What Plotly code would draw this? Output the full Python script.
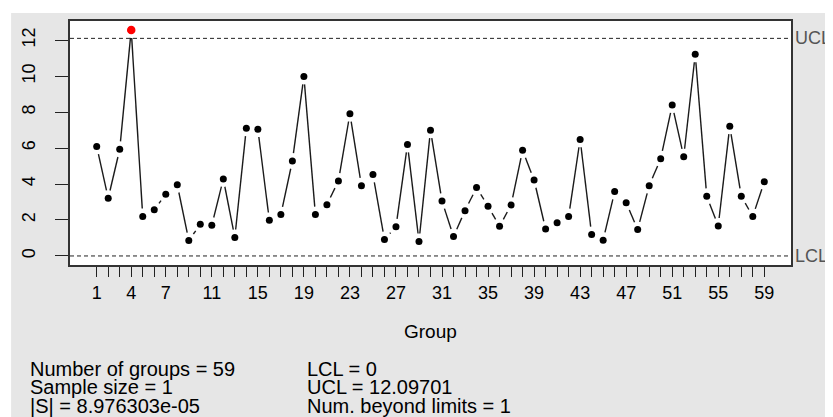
import math
import plotly.graph_objects as go

# ---- data ----
groups = list(range(1, 60))
values = [6.09, 3.21, 5.93, 12.56, 2.20, 2.57, 3.43, 3.96, 0.86, 1.76,
          1.71, 4.28, 1.03, 7.10, 7.05, 1.98, 2.30, 5.28, 9.98, 2.30,
          2.85, 4.17, 7.91, 3.91, 4.53, 0.92, 1.62, 6.20, 0.81, 6.99,
          3.05, 1.08, 2.52, 3.80, 2.77, 1.65, 2.83, 5.87, 4.22, 1.50,
          1.84, 2.20, 6.48, 1.19, 0.88, 3.58, 2.96, 1.47, 3.91, 5.41,
          8.39, 5.52, 11.21, 3.32, 1.67, 7.21, 3.32, 2.20, 4.13]
UCL = 12.09701
LCL = 0.0
x_tick_labels = [1, 4, 7, 11, 15, 19, 23, 27, 31, 35, 39, 43, 47, 51, 55, 59]
y_ticks = [0, 2, 4, 6, 8, 10, 12]
stats_left = ["Number of groups = 59", "Sample size = 1", "|S| = 8.976303e-05"]
stats_right = ["LCL = 0", "UCL = 12.09701", "Num. beyond limits = 1"]

# ---- geometry (page body has an 8px margin) ----
OFF = 8
W, H = 833 - OFF, 417 - OFF
ML, MR, MT, MB = 69 - OFF, 42, 19 - OFF, 152
PW, PH = W - ML - MR, H - MT - MB

n = len(groups)
xr = (n - 1) * 0.04
xmin, xmax = groups[0] - xr, groups[-1] + xr
lo, hi = min(min(values), LCL), max(max(values), UCL)
yr = (hi - lo) * 0.04
ymin, ymax = lo - yr, hi + yr

sx = PW / (xmax - xmin)
sy = PH / (ymax - ymin)

def px_x(px):
    # screenshot x pixel -> paper coordinate
    return (px - OFF - ML) / PW

def px_y(py):
    # screenshot y pixel -> paper coordinate
    return (H - MB - (py - OFF)) / PH

# R type="b" line with gaps around points
gap = 8.0
lx, ly = [], []
for i in range(n - 1):
    x1, y1 = groups[i] * sx, values[i] * sy
    x2, y2 = groups[i + 1] * sx, values[i + 1] * sy
    d = math.hypot(x2 - x1, y2 - y1)
    if d > 2 * gap:
        ux, uy = (x2 - x1) / d, (y2 - y1) / d
        lx += [(x1 + gap * ux) / sx, (x2 - gap * ux) / sx, None]
        ly += [(y1 + gap * uy) / sy, (y2 - gap * uy) / sy, None]

out_x = [g for g, v in zip(groups, values) if v > UCL or v < LCL]
out_y = [v for v in values if v > UCL or v < LCL]

fig = go.Figure()
fig.add_trace(go.Scatter(x=lx, y=ly, mode="lines",
                         line=dict(color="#1a1a1a", width=1.4),
                         hoverinfo="skip", showlegend=False))
fig.add_trace(go.Scatter(x=groups, y=values, mode="markers",
                         marker=dict(color="black", size=7),
                         showlegend=False))
fig.add_trace(go.Scatter(x=out_x, y=out_y, mode="markers",
                         marker=dict(color="#ff0000", size=8.5),
                         showlegend=False))

# control limits
for v in (UCL, LCL):
    fig.add_shape(type="line", xref="paper", yref="y", x0=0, x1=1, y0=v, y1=v,
                  line=dict(color="#222222", width=1, dash="4px,3px"), layer="above")

# white strips at top and left
fig.add_shape(type="rect", xref="paper", yref="paper",
              x0=px_x(0), x1=px_x(840), y0=px_y(11), y1=px_y(0),
              fillcolor="white", line=dict(width=0), layer="below")
fig.add_shape(type="rect", xref="paper", yref="paper",
              x0=px_x(0), x1=px_x(10), y0=px_y(420), y1=px_y(0),
              fillcolor="white", line=dict(width=0), layer="below")

font = "Liberation Sans, Arial, sans-serif"
annotations = [
    dict(text="UCL", x=px_x(793), y=UCL, xref="paper", yref="y", xanchor="left",
         yanchor="middle", showarrow=False, font=dict(family=font, size=18, color="#555555")),
    dict(text="LCL", x=px_x(793), y=LCL, xref="paper", yref="y", xanchor="left",
         yanchor="middle", showarrow=False, font=dict(family=font, size=18, color="#555555")),
    dict(text="Group", x=0.5, y=px_y(332), xref="paper", yref="paper", xanchor="center",
         yanchor="middle", showarrow=False, font=dict(family=font, size=19, color="black")),
]
for k, (a, b) in enumerate(zip(stats_left, stats_right)):
    yy = px_y(370 + k * 18.5)
    annotations.append(dict(text=a, x=px_x(27), y=yy, xref="paper", yref="paper",
                            xanchor="left", yanchor="middle", showarrow=False,
                            font=dict(family=font, size=20, color="black")))
    annotations.append(dict(text=b, x=px_x(304), y=yy, xref="paper", yref="paper",
                            xanchor="left", yanchor="middle", showarrow=False,
                            font=dict(family=font, size=20, color="black")))

fig.update_layout(
    width=W, height=H,
    margin=dict(l=ML, r=MR, t=MT, b=MB, pad=0),
    paper_bgcolor="#e6e6e6", plot_bgcolor="white",
    annotations=annotations,
    font=dict(family=font, color="black"),
    xaxis=dict(range=[xmin, xmax], tickmode="array", tickvals=groups,
               ticktext=[str(g) if g in x_tick_labels else "" for g in groups],
               ticks="outside", ticklen=10, tickwidth=1.2, tickcolor="#222222",
               showgrid=False, zeroline=False, showline=True, mirror=True,
               linecolor="#333333", linewidth=1.5,
               tickfont=dict(family=font, size=18, color="black"),
               ticklabelstandoff=1),
    yaxis=dict(range=[ymin, ymax], tickmode="array", tickvals=y_ticks,
               ticks="outside", ticklen=13, tickwidth=1.2, tickcolor="#222222",
               showgrid=False, zeroline=False, showline=True, mirror=True,
               linecolor="#333333", linewidth=1.5, tickangle=-90,
               tickfont=dict(family=font, size=18, color="black"),
               ticklabelstandoff=13),
)

fig.write_html("out.html")
